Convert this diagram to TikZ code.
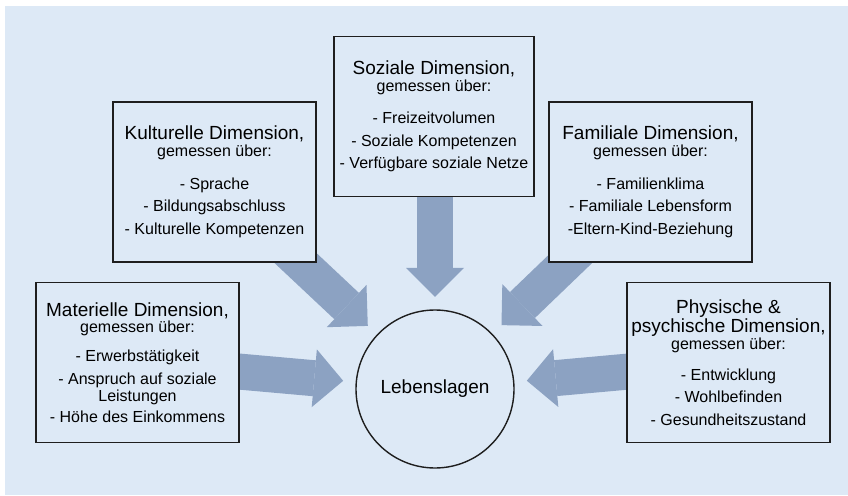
\documentclass[tikz,border=0pt]{standalone}
\usepackage{fontspec}
\setmainfont{Liberation Sans}
\usetikzlibrary{arrows.meta}
\pgfdeclarelayer{pagebg}
\pgfdeclarelayer{arrowlayer}
\pgfsetlayers{pagebg,arrowlayer,main}
\definecolor{bgblue}{HTML}{DDE9F6}
\definecolor{arrowblue}{HTML}{8CA2C2}
\definecolor{framecol}{HTML}{1E1E1E}
\newcommand\dimhead[1]{{\fontsize{19}{22.5}\selectfont #1}}
\begin{document}
\begin{tikzpicture}[x=1pt,y=-1pt,
  dimbox/.style={draw=framecol, line width=1.4pt, fill=bgblue, minimum width=203pt,
    minimum height=160pt, inner sep=0pt, align=center, font=\fontsize{16}{22.5}\selectfont},
  hubnode/.style={circle, draw=framecol, line width=1.4pt, fill=bgblue, minimum size=158pt,
    inner sep=0pt, font=\fontsize{19}{22}\selectfont},
  fatarrow/.style={draw=arrowblue, line width=36pt,
    -{Triangle[width=58pt,length=29pt,line width=0pt]}, shorten >=12.5pt}]
\useasboundingbox (0,0) rectangle (848,495);
\begin{pgfonlayer}{pagebg}
\fill[white] (0,0) rectangle (848,495);
\fill[bgblue] (5,6) rectangle (848,495);
\end{pgfonlayer}

\node[hubnode] (leb) at (435,389) {Lebenslagen};

\node[dimbox, minimum width=200pt] (soz) at (434,116.5)
  {\dimhead{Soziale Dimension,}\\[-5.5pt] gemessen über:\\[10pt]
   - Freizeitvolumen\\ - Soziale Kompetenzen\\ - Verfügbare soziale Netze};
\node[dimbox] (kult) at (214.5,182)
  {\dimhead{Kulturelle Dimension,}\\[-5.5pt] gemessen über:\\[10pt]
   - Sprache\\ - Bildungsabschluss\\ - Kulturelle Kompetenzen};
\node[dimbox] (fam) at (650.5,182)
  {\dimhead{Familiale Dimension,}\\[-5.5pt] gemessen über:\\[10pt]
   - Familienklima\\ - Familiale Lebensform\\ -Eltern-Kind-Beziehung};
\node[dimbox] (mat) at (137.5,362.5)
  {\dimhead{Materielle Dimension,}\\[-6pt] gemessen über:\\[6pt]
   - Erwerbstätigkeit\\[1pt] - Anspruch auf soziale\\[-6pt] Leistungen\\[-1pt]
   - Höhe des Einkommens};
\node[dimbox] (phys) at (728.5,362.5)
  {\dimhead{Physische \&}\\[-3.5pt] \dimhead{psychische Dimension,}\\[-6pt]
   gemessen über:\\[8.5pt] - Entwicklung\\ - Wohlbefinden\\ - Gesundheitszustand};

\begin{pgfonlayer}{arrowlayer}
\draw[fatarrow] (soz.center -| leb.center) -- (leb);
\draw[fatarrow] (kult.center) -- (leb);
\draw[fatarrow] (fam.center) -- (leb);
\draw[fatarrow] (mat.center) -- (leb);
\draw[fatarrow] (phys.center) -- (leb);
\end{pgfonlayer}
\end{tikzpicture}
\end{document}
